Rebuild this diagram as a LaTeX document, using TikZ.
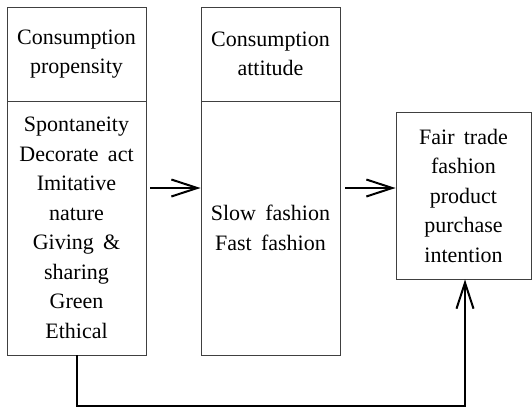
\documentclass[tikz,border=0pt]{standalone}
\usepackage{fontspec}
\setmainfont{Liberation Serif}
\usetikzlibrary{arrows.meta}
\newcommand\bxfont{\fontsize{22}{29.5}\selectfont\spaceskip=0.42em plus 0.1em\relax}
\begin{document}
\begin{tikzpicture}[x=1pt,y=-1pt,
  box/.style={draw=black!75, line width=0.9pt, inner sep=0pt, align=center, font=\bxfont},
  arr/.style={line width=2pt, line join=miter, -{Straight Barb[length=26pt,width=17pt,line width=2pt]}}]
\useasboundingbox (0,0) rectangle (532,408);
\node[box, minimum width=139pt, minimum height=94pt] (lhead) at (76.5,54) {Consumption\\propensity};
\node[box, minimum width=139pt, minimum height=254pt] (lbody) at (76.5,228) {Spontaneity\\Decorate act\\Imitative\\nature\\Giving \&\\sharing\\Green\\Ethical};
\node[box, minimum width=139pt, minimum height=94pt] (mhead) at (270.5,54) {Consumption\\attitude};
\node[box, minimum width=139pt, minimum height=254pt] (mbody) at (270.5,228) {Slow fashion\\Fast fashion};
\node[box, minimum width=135pt, minimum height=167pt] (rbox) at (463.5,195.5) {Fair trade\\fashion\\product\\purchase\\intention};
\draw[arr] ([xshift=4pt,yshift=40pt]lbody.east) -- ([yshift=40pt]mbody.west);
\draw[arr] ([xshift=5pt,yshift=40pt]mbody.east) -- ([yshift=7.5pt]rbox.west);
\draw[arr] (lbody.south) -- ++(0,51) -| ([xshift=1.5pt]rbox.south);
\end{tikzpicture}
\end{document}
